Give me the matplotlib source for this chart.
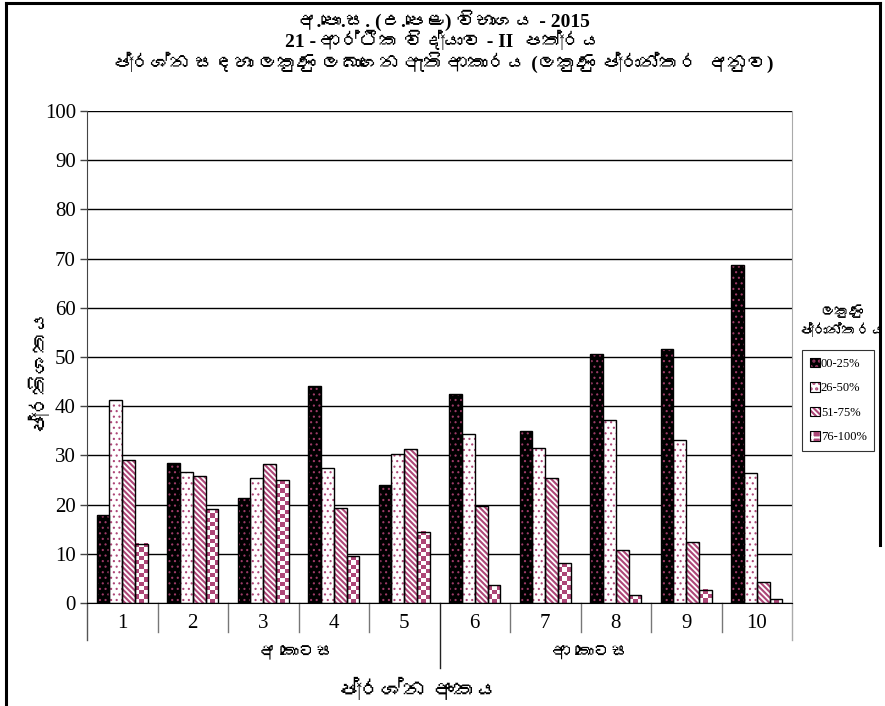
import numpy as np
import matplotlib
matplotlib.use("Agg")
import matplotlib.pyplot as plt
from matplotlib import font_manager, ft2font
from matplotlib.colors import ListedColormap
from matplotlib.lines import Line2D
from matplotlib.patches import Patch

# --- data ---
questions = ["1", "2", "3", "4", "5", "6", "7", "8", "9", "10"]
p00_25 = [17.8, 28.5, 21.3, 44.1, 24.0, 42.4, 34.9, 50.6, 51.7, 68.7]
p26_50 = [41.2, 26.7, 25.5, 27.4, 30.3, 34.3, 31.6, 37.1, 33.2, 26.4]
p51_75 = [29.0, 25.8, 28.3, 19.3, 31.2, 19.8, 25.5, 10.7, 12.4, 4.3]
p76_100 = [12.0, 19.1, 24.9, 9.5, 14.5, 3.6, 8.1, 1.6, 2.7, 0.8]
range_labels = ["00-25%", "26-50%", "51-75%", "76-100%"]
part_labels = ["අ කොටස", "ආ කොටස"]

title_lines = [
    "අ.පො.ස. (උ.පෙළ) විභාගය - 2015",
    "21 - ආර්ථික විද්‍යාව - II  පත්‍රය",
    "ප්‍රශ්න සඳහා ලකුණු ලබාගෙන ඇති ආකාරය (ලකුණු ප්‍රාන්තර  අනුව)",
]
xlabel = "ප්‍රශ්න අංකය"
ylabel = "ප්‍රතිශතය"
legend_title = "ලකුණු\nප්‍රාන්තරය"

PINK = "#ad4677"
DOTS = "..."
STRIPES = "\\" * 6


def find_sinhala_font():
    # matplotlib falls back along a family list, so look for any installed
    # font that actually carries Sinhala glyphs
    for entry in font_manager.fontManager.ttflist:
        try:
            if 0x0D85 in ft2font.FT2Font(entry.fname).get_charmap():
                return entry.name
        except Exception:
            continue
    return None


sinhala = find_sinhala_font()
serif = ["Liberation Serif"] + ([sinhala] if sinhala else []) + ["DejaVu Sans"]
plt.rcParams["font.family"] = serif

W, H = 885, 706
fig = plt.figure(figsize=(W / 100, H / 100), dpi=100)


def fx(px):
    return px / W


def fy(py):
    return 1 - py / H


ax = fig.add_axes([fx(87), fy(603), fx(792) - fx(87), fy(111) - fy(603)])

x = np.arange(len(questions))
w = 1 / 5.5
offsets = np.array([-1.5, -0.5, 0.5, 1.5]) * w

# pattern layers (hatch colour follows edgecolor, so outline drawn separately)
plt.rcParams["hatch.linewidth"] = 0.8
ax.bar(x + offsets[0], p00_25, w, color="black", edgecolor="#9c3a66", hatch=DOTS,
       linewidth=0, zorder=2)
ax.bar(x + offsets[1], p26_50, w, color="white", edgecolor=PINK, hatch=DOTS,
       linewidth=0, zorder=2)
plt.rcParams["hatch.linewidth"] = 1.5
ax.bar(x + offsets[2], p51_75, w, color="white", edgecolor=PINK, hatch=STRIPES,
       linewidth=0, zorder=2)

# checkerboard fill for the top range
checker_cmap = ListedColormap(["white", PINK])
cell_h = 0.87
for i, v in enumerate(p76_100):
    rows = max(1, int(round(v / cell_h)))
    grid = (np.add.outer(np.arange(rows), np.arange(3)) % 2)
    x0 = x[i] + offsets[3] - w / 2
    ax.imshow(grid, cmap=checker_cmap, origin="lower", interpolation="nearest",
              extent=(x0, x0 + w, 0, v), aspect="auto", zorder=2)

for off, vals in zip(offsets, [p00_25, p26_50, p51_75, p76_100]):
    ax.bar(x + off, vals, w, fill=False, edgecolor="black", linewidth=1.0, zorder=3)

ax.set_xlim(-0.5, len(questions) - 0.5)
ax.set_ylim(0, 100)
ax.set_yticks(np.arange(0, 101, 10))
ax.yaxis.grid(True, color="black", linewidth=1.0)
ax.set_axisbelow(True)
ax.tick_params(axis="y", length=5, width=1, color="#444", labelsize=15, pad=3)
ax.set_xticks(x)
ax.set_xticklabels(questions)
ax.tick_params(axis="x", length=0, labelsize=15, pad=8)

ax.spines["top"].set_visible(False)
ax.spines["right"].set_color("#aaaaaa")
ax.spines["left"].set_color("#444")
ax.spines["bottom"].set_color("black")

# category dividers below the axis
trans = ax.get_xaxis_transform()
for b in np.arange(0.5, len(questions) - 1, 1.0):
    if b == 4.5:
        ax.plot([b, b], [0, -0.132], color="#222", lw=1, transform=trans, clip_on=False)
    else:
        ax.plot([b, b], [0, -0.059], color="#777", lw=1, transform=trans, clip_on=False)
ax.plot([-0.5, -0.5], [0, -0.075], color="#555", lw=1, transform=trans, clip_on=False)
ax.plot([9.5, 9.5], [0, -0.075], color="#aaa", lw=1, transform=trans, clip_on=False)

fig.text(fx(296), fy(653), part_labels[0], ha="center", va="center", fontsize=13)
fig.text(fx(591), fy(653), part_labels[1], ha="center", va="center", fontsize=13)

fig.text(fx(418), fy(690), xlabel, ha="center", va="center", fontsize=16,
         fontweight="bold")
fig.text(fx(37), fy(368), ylabel, ha="center", va="center", rotation=90,
         fontsize=15, fontweight="bold")

for k, line in enumerate(title_lines):
    fig.text(fx(443), fy(20 + 21 * k), line, ha="center", va="center",
             fontsize=14, fontweight="bold")

# legend
fig.text(fx(842), fy(322), legend_title, ha="center", va="center", fontsize=10.5,
         fontweight="bold", linespacing=1.3)
outline = dict(fill=False, edgecolor="black", linewidth=0.8)
handles = [
    (Patch(facecolor="black", edgecolor="#9c3a66", hatch=DOTS, linewidth=0), Patch(**outline)),
    (Patch(facecolor="white", edgecolor=PINK, hatch=DOTS, linewidth=0), Patch(**outline)),
    (Patch(facecolor="white", edgecolor=PINK, hatch=STRIPES, linewidth=0), Patch(**outline)),
    (Patch(facecolor=PINK, edgecolor="white", hatch="++", linewidth=0), Patch(**outline)),
]
leg = fig.legend(handles, range_labels, loc="upper left",
                 bbox_to_anchor=(fx(802), fy(350)), frameon=True, fancybox=False,
                 fontsize=9, handlelength=0.8, handleheight=0.8, handletextpad=0.1,
                 labelspacing=1.0, borderpad=0.6, borderaxespad=0)
leg.get_frame().set_edgecolor("black")
leg.get_frame().set_linewidth(0.8)

# chart-area frame (bottom is cut off in the original)
fig.add_artist(Line2D([fx(6), fx(6)], [0, fy(3)], color="black", lw=2.2))
fig.add_artist(Line2D([fx(6), fx(880)], [fy(3), fy(3)], color="black", lw=2.2))
fig.add_artist(Line2D([fx(880), fx(880)], [fy(3), fy(545)], color="black", lw=2.2))

fig.savefig("out.png", dpi=100)
